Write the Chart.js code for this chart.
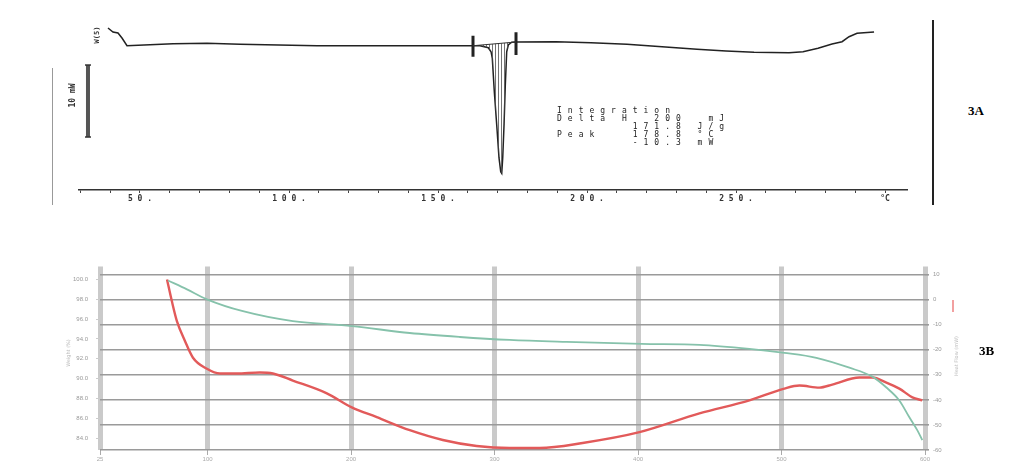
<!DOCTYPE html>
<html><head><meta charset="utf-8">
<script src="https://cdn.jsdelivr.net/npm/chart.js@4.4.1/dist/chart.umd.min.js"></script>
<style>
html,body{margin:0;padding:0;background:#fff;width:1009px;height:476px;overflow:hidden;position:relative;font-family:"DejaVu Sans",sans-serif}
.abs{position:absolute}
canvas{display:block}
.mono{font-family:"DejaVu Sans Mono",monospace;font-weight:bold;color:#333}
.rot{transform:rotate(-90deg);white-space:nowrap}
.lbl{font-family:"Liberation Serif",serif;font-weight:bold;font-size:13px;color:#000}
</style></head><body>
<div class="abs" style="left:78px;top:15px;width:830px;height:195px"><canvas id="cA" width="830" height="195"></canvas></div>
<div class="abs" style="left:40px;top:255px;width:940px;height:215px"><canvas id="cB" width="940" height="215"></canvas></div>

<div class="abs" style="left:52px;top:68px;width:1px;height:137px;background:#999"></div>
<div class="abs" style="left:932px;top:20px;width:2px;height:185px;background:#222"></div>
<div class="abs mono rot" style="left:85px;top:31px;font-size:7px;width:24px;text-align:center">W(5)</div>
<div class="abs mono rot" style="left:56px;top:91px;font-size:8px;width:32px;text-align:center">10 mW</div>
<pre class="abs mono" id="integ" style="left:557px;top:107px;margin:0;font-size:8px;line-height:8px;letter-spacing:6px;font-weight:normal;color:#222"></pre>
<div class="abs lbl" style="left:968px;top:103px">3A</div>
<div class="abs lbl" style="left:979px;top:343px">3B</div>
<div class="abs rot" style="left:50px;top:350px;font-size:5px;color:#bbb;width:36px;text-align:center">Weight (%)</div>
<div class="abs" style="left:952px;top:300px;width:2px;height:12px;background:#f2a0a0"></div>
<div class="abs rot" style="left:933px;top:353px;font-size:5px;color:#bbb;width:46px;text-align:center">Heat Flow (mW)</div>

<script>
// ---------- Panel 3A : DSC ----------
const dscT  = [39.26, 40.94, 42.62, 43.96, 45.64, 61.07, 72.48, 83.56, 109.40, 161.74, 164.09, 166.88, 167.79, 168.22, 168.89, 169.70, 170.47, 171.04, 171.38, 171.71, 172.15, 172.58, 173.05, 173.59, 174.73, 176.17, 189.60, 201.34, 213.42, 225.17, 236.91, 246.64, 256.04, 267.79, 272.48, 277.52, 282.21, 285.57, 287.92, 290.60, 296.31];
const dscMW = [2.36, 1.81, 1.67, 0.97, -0.10, 0.18, 0.24, 0.10, -0.10, -0.10, -0.10, -0.38, -0.93, -1.85, -6.49, -11.11, -15.69, -17.60, -17.82, -15.69, -11.11, -5.56, -0.93, 0, 0.38, 0.42, 0.46, 0.32, 0.10, -0.24, -0.60, -0.83, -1.01, -1.07, -0.93, -0.46, 0.14, 0.46, 1.15, 1.63, 1.81];
const integT  = [161.74, 176.17];
const integMW = [-0.10, 0.42];
const markerLeftMW  = [1.29, -1.63];
const markerRightMW = [1.76, -1.39];
const scaleBarT  = [32.55, 32.55];
const scaleBarMW = [-2.78, -12.78];
const dscTickValues = [30,40,50,60,70,80,90,100,110,120,130,140,150,160,170,180,190,200,210,220,230,240,250,260,270,280,290,300];
const dscLabelValues = [50,100,150,200,250];
const dscUnitLabel = '°C';
const integText = ['Integration','Delta H  200  mJ','       171.8 J/g','Peak   178.8 °C','       -10.3 mW'];

// ---------- Panel 3B : TGA / DTA ----------
const tgaT = [72.4, 85.6, 99.5, 124.6, 159.4, 200.5, 240.9, 275.7, 310.5, 350.2, 402.4, 442.8, 477.6, 502.0, 524.3, 547.3, 563.3, 573.1, 582.1, 589.1, 594.6, 598.1];
const tgaW = [99.9, 99.0, 98.0, 96.8, 95.8, 95.3, 94.6, 94.2, 93.9, 93.7, 93.5, 93.4, 93.0, 92.6, 92.1, 91.1, 90.2, 89.1, 87.8, 86.1, 84.8, 83.8];
const dtaT = [71.7, 75.1, 78.6, 84.2, 89.8, 99.5, 108.6, 120.4, 136.4, 145.5, 159.4, 183.1, 200.5, 217.9, 240.9, 263.9, 287.5, 310.5, 331.4, 361.4, 401.0, 442.8, 477.6, 502.0, 512.5, 526.4, 535.4, 554.3, 563.3, 573.1, 582.1, 591.2, 598.1];
const dtaV = [8.02, -0.68, -8.58, -16.5, -23.2, -27.6, -29.5, -29.5, -29.1, -29.5, -32.3, -37.4, -43.0, -46.9, -52.1, -56.0, -58.4, -59.2, -59.2, -57.2, -52.9, -45.4, -40.2, -35.5, -34.3, -35.1, -33.9, -31.1, -31.1, -33.1, -35.5, -39.0, -40.2];
const xTicksB = [25,100,200,300,400,500,600];
const leftTicksB = [100,98,96,94,92,90,88,86,84];
const rightTicksB = [10,0,-10,-20,-30,-40,-50,-60];

document.getElementById('integ').textContent = integText.join('\n');

const pts = (xs, ys) => xs.map((x, i) => ({x, y: ys[i]}));

// hatch pattern for integrated area
const pc = document.createElement('canvas'); pc.width = 3; pc.height = 3;
const pctx = pc.getContext('2d'); pctx.fillStyle = 'rgba(80,80,80,0.8)'; pctx.fillRect(0,0,1,3);
const hatch = pc.getContext('2d').createPattern(pc, 'repeat');

const peakIdx = dscT.map((t,i)=>i).filter(i => dscT[i] >= integT[0] && dscT[i] <= integT[1]);

new Chart(document.getElementById('cA'), {
  type: 'scatter',
  data: { datasets: [
    { data: pts(integT, integMW), showLine: true, borderColor: '#333', borderWidth: 1, pointRadius: 0 },
    { data: peakIdx.map(i => ({x: dscT[i], y: dscMW[i]})), showLine: true, borderWidth: 0, pointRadius: 0, fill: 0, backgroundColor: hatch },
    { data: pts(dscT, dscMW), showLine: true, borderColor: '#222', borderWidth: 1.5, pointRadius: 0 },
    { data: pts([integT[0], integT[0]], markerLeftMW), showLine: true, borderColor: '#222', borderWidth: 3, pointRadius: 0 },
    { data: pts([integT[1], integT[1]], markerRightMW), showLine: true, borderColor: '#222', borderWidth: 3, pointRadius: 0 },
    { data: pts(scaleBarT, scaleBarMW), showLine: true, borderColor: '#555', borderWidth: 4, pointStyle: 'line', pointRadius: 3, pointBorderWidth: 1.5, pointBorderColor: '#333' }
  ]},
  options: {
    responsive: false, animation: false, events: [],
    layout: { padding: 0, autoPadding: false },
    plugins: { legend: { display: false }, tooltip: { enabled: false } },
    scales: {
      x: { type: 'linear', min: 29.2, max: 307.7,
        afterBuildTicks: s => { s.ticks = dscTickValues.map(v => ({value: v})); },
        afterFit: s => { s.height = 20; },
        border: { display: true, color: '#333', width: 1.5 },
        grid: { drawOnChartArea: false, tickLength: 3, color: '#444', lineWidth: 1 },
        ticks: { autoSkip: false, maxRotation: 0, padding: 1, color: '#333',
          font: { family: 'DejaVu Sans Mono', size: 8, weight: 'bold' },
          callback: v => v === 300 ? dscUnitLabel : (dscLabelValues.includes(v) ? String(v).split('').join(' ') + ' .' : '') }
      },
      y: { display: false, min: -20.14, max: 4.17 }
    }
  }
});

new Chart(document.getElementById('cB'), {
  type: 'scatter',
  data: { datasets: [
    { data: pts(tgaT, tgaW), yAxisID: 'yL', showLine: true, borderColor: '#86c2ab', borderWidth: 1.8, pointRadius: 0, cubicInterpolationMode: 'monotone' },
    { data: pts(dtaT, dtaV), yAxisID: 'yR', showLine: true, borderColor: '#e25a5a', borderWidth: 2.4, pointRadius: 0, cubicInterpolationMode: 'monotone' }
  ]},
  options: {
    responsive: false, animation: false, events: [],
    layout: { padding: { top: 10, left: 0, right: 0, bottom: 0 }, autoPadding: false },
    plugins: { legend: { display: false }, tooltip: { enabled: false } },
    scales: {
      x: { type: 'linear', min: 25, max: 600,
        afterBuildTicks: s => { s.ticks = xTicksB.map(v => ({value: v})); },
        afterFit: s => { s.height = 20; },
        border: { display: false },
        grid: { color: 'rgba(150,150,150,0.5)', lineWidth: 5, tickLength: 5, tickColor: '#aaa', tickWidth: 1 },
        ticks: { autoSkip: false, maxRotation: 0, padding: 1, color: '#aaa', font: { size: 6 }, callback: v => String(v) }
      },
      yL: { type: 'linear', position: 'left', min: 82.8, max: 101.3,
        afterBuildTicks: s => { s.ticks = leftTicksB.map(v => ({value: v})); },
        afterFit: s => { s.width = 60; },
        border: { display: false },
        grid: { drawOnChartArea: false, tickLength: 4, color: '#ccc' },
        ticks: { autoSkip: false, padding: 8, color: '#999', font: { size: 6 }, callback: v => v.toFixed(1) }
      },
      yR: { type: 'linear', position: 'right', min: -60, max: 13.16,
        afterBuildTicks: s => { s.ticks = rightTicksB.map(v => ({value: v})); },
        afterFit: s => { s.width = 55; },
        border: { display: false },
        grid: { drawOnChartArea: true, color: '#9a9a9a', lineWidth: 1.6, tickLength: 4 },
        ticks: { autoSkip: false, padding: 4, color: '#999', font: { size: 6 }, callback: v => String(v) }
      }
    }
  }
});
</script>
</body></html>
